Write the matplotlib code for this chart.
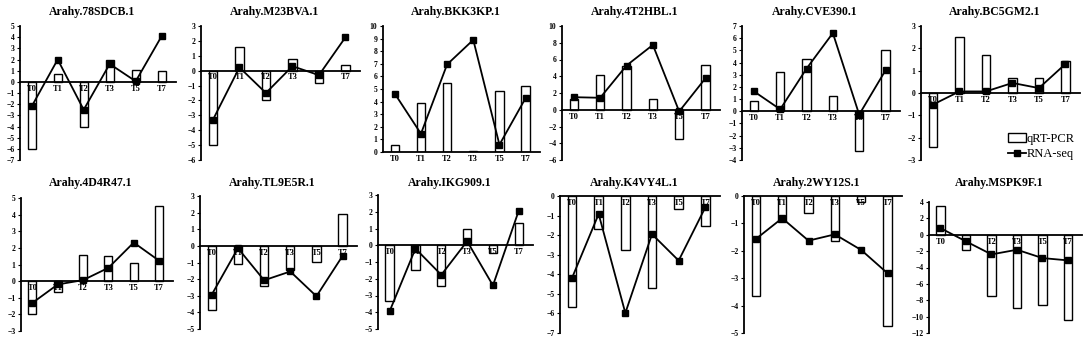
import matplotlib
matplotlib.use("Agg")
import matplotlib.pyplot as plt
from matplotlib.patches import Patch
from matplotlib.lines import Line2D

plt.rcParams['font.family'] = ['Liberation Serif', 'DejaVu Serif']

timepoints = ["T0", "T1", "T2", "T3", "T5", "T7"]

genes = ["Arahy.78SDCB.1", "Arahy.M23BVA.1", "Arahy.BKK3KP.1", "Arahy.4T2HBL.1",
         "Arahy.CVE390.1", "Arahy.BC5GM2.1", "Arahy.4D4R47.1", "Arahy.TL9E5R.1",
         "Arahy.IKG909.1", "Arahy.K4VY4L.1", "Arahy.2WY12S.1", "Arahy.MSPK9F.1"]

qrt_78SDCB = [-6.0, 0.7, -4.0, 2.0, 1.05, 0.95]
rna_78SDCB = [-2.2, 2.0, -2.5, 1.6, 0.05, 4.1]
qrt_M23BVA = [-5.0, 1.57, -2.0, 0.78, -0.8, 0.38]
rna_M23BVA = [-3.3, 0.22, -1.5, 0.3, -0.3, 2.24]
qrt_BKK3KP = [0.58, 3.9, 5.48, 0.1, 4.85, 5.25]
rna_BKK3KP = [4.63, 1.45, 6.95, 8.9, 0.58, 4.28]
qrt_4T2HBL = [1.23, 4.17, 5.2, 1.23, -3.45, 5.4]
rna_4T2HBL = [1.5, 1.43, 5.28, 7.74, -0.2, 3.77]
qrt_CVE390 = [0.82, 3.2, 4.26, 1.26, -3.25, 5.05]
rna_CVE390 = [1.64, 0.16, 3.5, 6.42, -0.27, 3.36]
qrt_BC5GM2 = [-2.43, 2.5, 1.68, 0.67, 0.67, 1.44]
rna_BC5GM2 = [-0.52, 0.07, 0.07, 0.45, 0.22, 1.3]
qrt_4D4R47 = [-2.0, -0.65, 1.57, 1.51, 1.07, 4.54]
rna_4D4R47 = [-1.31, -0.2, 0.06, 0.8, 2.32, 1.23]
qrt_TL9E5R = [-3.87, -1.1, -2.43, -1.44, -0.94, 1.92]
rna_TL9E5R = [-2.93, -0.14, -2.07, -1.54, -3.03, -0.6]
qrt_IKG909 = [-3.35, -1.48, -2.46, 0.98, -0.45, 1.34]
rna_IKG909 = [-3.94, -0.2, -1.77, 0.24, -2.4, 2.07]
qrt_K4VY4L = [-5.67, -1.68, -2.75, -4.7, -0.68, -1.53]
rna_K4VY4L = [-4.19, -0.92, -5.98, -1.95, -3.3, -0.58]
qrt_2WY12S = [-3.64, -0.96, -0.61, -1.64, -0.23, -4.73]
rna_2WY12S = [-1.57, -0.81, -1.63, -1.4, -1.97, -2.82]
qrt_MSPK9F = [3.46, -1.83, -7.53, -8.96, -8.63, -10.46]
rna_MSPK9F = [0.81, -0.81, -2.4, -1.83, -2.85, -3.13]

qrt_all = [qrt_78SDCB, qrt_M23BVA, qrt_BKK3KP, qrt_4T2HBL, qrt_CVE390, qrt_BC5GM2,
           qrt_4D4R47, qrt_TL9E5R, qrt_IKG909, qrt_K4VY4L, qrt_2WY12S, qrt_MSPK9F]
rna_all = [rna_78SDCB, rna_M23BVA, rna_BKK3KP, rna_4T2HBL, rna_CVE390, rna_BC5GM2,
           rna_4D4R47, rna_TL9E5R, rna_IKG909, rna_K4VY4L, rna_2WY12S, rna_MSPK9F]

# y-axis ranges (min, max, step)
yranges = [(-7, 5, 1), (-6, 3, 1), (0, 10, 1), (-6, 10, 2), (-4, 7, 1), (-3, 3, 1),
           (-3, 5, 1), (-5, 3, 1), (-5, 3, 1), (-7, 0, 1), (-5, 0, 1), (-12, 4, 2)]

# pixel boxes: left, right, top, bottom
boxes = [(20, 176, 26, 160), (201, 360, 26, 160), (383, 540, 26, 152),
         (562, 720, 26, 160), (742, 900, 26, 160), (921, 1080, 26, 160),
         (21, 173, 198, 331), (200, 357, 196, 329), (378, 533, 195, 329),
         (560, 720, 196, 333), (744, 902, 196, 333), (929, 1082, 202, 333)]
title_y = [12, 183]

W, H = 1084, 341
fig = plt.figure(figsize=(W / 100, H / 100), dpi=100)

x = list(range(len(timepoints)))
for k in range(12):
    l, r, t, b = boxes[k]
    ax = fig.add_axes([l / W, 1 - b / H, (r - l) / W, (b - t) / H])
    ax.set_axisbelow(False)
    ax.bar(x, qrt_all[k], width=0.32, color='white', edgecolor='black', linewidth=1.0, zorder=1)
    ax.plot(x, rna_all[k], color='black', linewidth=1.3, marker='s', markersize=4, zorder=4)
    ymin, ymax, step = yranges[k]
    ax.set_ylim(ymin, ymax)
    ax.set_yticks(range(ymin, ymax + 1, step))
    ax.set_xlim(-0.45, 5.55)
    ax.set_xticks(x)
    ax.set_xticklabels(timepoints)
    ax.spines['top'].set_visible(False)
    ax.spines['right'].set_visible(False)
    ax.spines['bottom'].set_position(('data', 0))
    ax.spines['left'].set_linewidth(1.3)
    ax.spines['bottom'].set_linewidth(1.3)
    ax.tick_params(axis='x', length=0, pad=2, labelsize=6)
    ax.tick_params(axis='y', length=2, width=0.8, pad=2, labelsize=5.5)
    for lab in ax.get_yticklabels() + ax.get_xticklabels():
        lab.set_fontweight('bold')
    ax.patch.set_visible(False)
    row = 0 if k < 6 else 1
    fig.text(((l + r) / 2 - 6) / W, 1 - title_y[row] / H, genes[k], fontsize=8.5,
             fontweight='bold', ha='center', va='center')
    if k == 5:
        handles = [Patch(facecolor='white', edgecolor='black', linewidth=1.0),
                   Line2D([0], [0], color='black', linewidth=1.3, marker='s', markersize=4)]
        ax.legend(handles, ['qRT-PCR', 'RNA-seq'], loc='lower right', frameon=False,
                  fontsize=9, handlelength=1.4, handletextpad=0.1, borderaxespad=0.0,
                  labelspacing=0.3, bbox_to_anchor=(1.0, -0.04))

fig.savefig("out.png", dpi=100)
